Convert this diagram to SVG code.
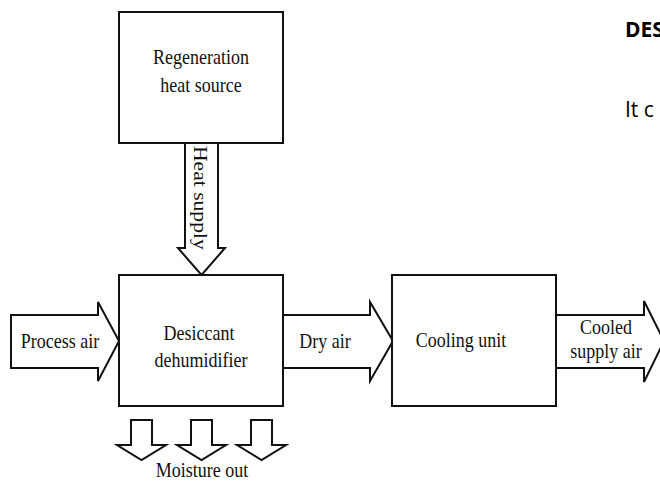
<svg xmlns="http://www.w3.org/2000/svg" width="660" height="489" viewBox="0 0 660 489">
  <style>
    .box { fill: #fff; stroke: #111; stroke-width: 2; }
    .arrow { fill: #fff; stroke: #111; stroke-width: 2; stroke-linejoin: miter; }
    .lbl { font-family: "Liberation Serif", "Times New Roman", serif; font-size: 18px; fill: #111; text-anchor: middle; }
    .doc { font-family: "Open Sans", "Liberation Sans", Arial, sans-serif; font-size: 21px; fill: #000; }
  </style>
  <rect width="660" height="489" fill="#fff"/>

  <!-- connectors: block arrows between units -->
  <g id="connectors">
    <polygon class="arrow" points="185,143 218,143 218,248 225,248 201.5,275 178,248 185,248"/>
    <polygon class="arrow" points="11,315 98,315 98,302 119,341 98,381 98,368 11,368"/>
    <polyline class="arrow" points="283,315 370,315 370,302 393,341 370,381 370,368 283,368"/>
    <polyline class="arrow" points="556,315 644,315 644,301 664,341 644,382 644,368 556,368"/>
    <polygon class="arrow" points="131,420 152,420 152,445 166,445 141.5,460 117,445 131,445"/>
    <polygon class="arrow" points="191,420 212,420 212,445 226,445 201.5,460 177,445 191,445"/>
    <polygon class="arrow" points="251,420 272,420 272,445 286,445 261.5,460 237,445 251,445"/>
  </g>

  <g id="regeneration">
    <rect class="box" x="119" y="12" width="164" height="131"/>
    <text class="lbl" transform="translate(201,64) scale(1,1.15)">Regeneration</text>
    <text class="lbl" transform="translate(201,92) scale(1,1.15)">heat source</text>
  </g>

  <g id="desiccant">
    <rect class="box" x="119" y="275" width="164" height="131"/>
    <text class="lbl" transform="translate(199,340) scale(1,1.15)">Desiccant</text>
    <text class="lbl" transform="translate(201,367) scale(1,1.15)">dehumidifier</text>
  </g>

  <g id="cooling">
    <rect class="box" x="392" y="275" width="164" height="131"/>
    <text class="lbl" transform="translate(461,347) scale(1,1.15)">Cooling unit</text>
  </g>

  <!-- arrow labels -->
  <g id="labels">
    <text class="lbl" style="text-anchor:start" transform="translate(194,146) rotate(90) scale(1.2,1)">Heat supply</text>
    <text class="lbl" transform="translate(60,348) scale(1,1.15)">Process air</text>
    <text class="lbl" transform="translate(325,348) scale(1,1.15)">Dry air</text>
    <text class="lbl" transform="translate(606,334) scale(1,1.15)">Cooled</text>
    <text class="lbl" transform="translate(606,358) scale(1,1.15)">supply air</text>
    <text class="lbl" transform="translate(202,477) scale(1,1.15)">Moisture out</text>
  </g>

  <!-- document text running past the right edge -->
  <text class="doc" x="625" y="37" font-weight="bold">DES</text>
  <text class="doc" x="625" y="117">It c</text>
</svg>
